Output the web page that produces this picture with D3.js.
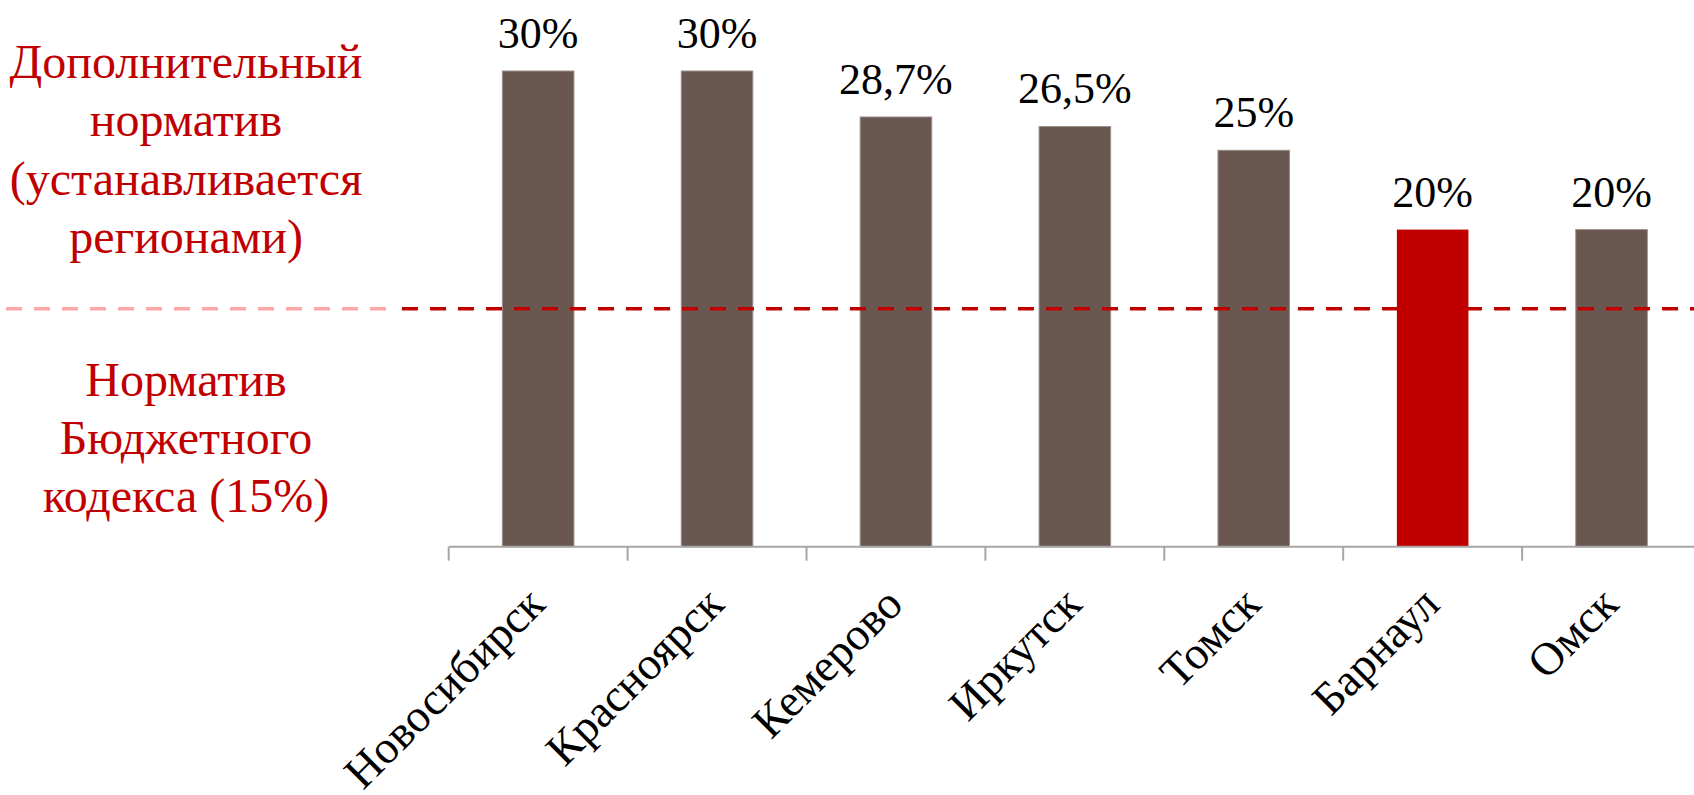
<!DOCTYPE html>
<html>
<head>
<meta charset="utf-8">
<script src="https://cdn.jsdelivr.net/npm/d3@7"></script>
<style>
  body { margin: 0; background: #fff; }
</style>
</head>
<body>
<script>
const cities = ["Новосибирск", "Красноярск", "Кемерово", "Иркутск", "Томск", "Барнаул", "Омск"];
// bar heights (Kemerovo's bar is drawn lower than its label says)
const barValues = [30, 30, 27.1, 26.5, 25, 20, 20];
const valueLabels = ["30%", "30%", "28,7%", "26,5%", "25%", "20%", "20%"];
const highlightCity = "Барнаул";
const budgetCodeNorm = 15;
const upperNote = ["Дополнительный", "норматив", "(устанавливается", "регионами)"];
const lowerNote = ["Норматив", "Бюджетного", "кодекса (15%)"];

const w = 1694;
const h = 795;
const margin = { top: 71, left: 448.7 };
const axisY = 546.7;
const step = 178.9;
const serif = "'Liberation Serif', 'Times New Roman', serif";

const svg = d3.select("body")
    .append("svg")
    .attr("width", w)
    .attr("height", h)
    .style("font-family", serif);

const data = cities.map((c, i) => ({ city: c, value: barValues[i], label: valueLabels[i] }));

const xScale = d3.scaleBand()
    .domain(cities)
    .range([margin.left, margin.left + step * cities.length])
    .paddingInner(0.6)
    .paddingOuter(0.3);

// category boundaries for the tick marks
const xEdges = d3.scaleBand()
    .domain(cities)
    .range([margin.left, margin.left + step * cities.length])
    .padding(0);

const yScale = d3.scaleLinear()
    .domain([0, 30])
    .range([axisY, margin.top]);

// bars
svg.append("g")
    .selectAll("rect")
    .data(data)
    .enter()
    .append("rect")
    .attr("x", d => xScale(d.city))
    .attr("y", d => yScale(d.value))
    .attr("width", xScale.bandwidth())
    .attr("height", d => yScale(0) - yScale(d.value))
    .attr("fill", d => d.city === highlightCity ? "#C00000" : "#695750")
    .attr("stroke", d => d.city === highlightCity ? "none" : "#9b8f8a")
    .attr("stroke-width", 1);

// x axis line + ticks
const axisG = svg.append("g").attr("class", "x-axis");
axisG.append("line")
    .attr("x1", xEdges(cities[0]))
    .attr("x2", w)
    .attr("y1", yScale(0))
    .attr("y2", yScale(0))
    .attr("stroke", "#A6A6A6")
    .attr("stroke-width", 2);

axisG.selectAll("line.tick")
    .data(cities)
    .enter()
    .append("line")
    .attr("class", "tick")
    .attr("x1", d => xEdges(d))
    .attr("x2", d => xEdges(d))
    .attr("y1", yScale(0))
    .attr("y2", yScale(0) + 14)
    .attr("stroke", "#A6A6A6")
    .attr("stroke-width", 2);

axisG.selectAll("text")
    .data(cities)
    .enter()
    .append("text")
    .attr("text-anchor", "end")
    .attr("transform", d => `translate(${xScale(d) + xScale.bandwidth() / 2 + 9}, ${yScale(0) + 60}) rotate(-45)`)
    .attr("font-family", serif)
    .attr("font-size", 46)
    .attr("fill", "#000")
    .text(d => d);

// dashed norm line (pale over the notes, dark red over the plot)
svg.append("line")
    .attr("x1", 6)
    .attr("x2", 390)
    .attr("y1", yScale(budgetCodeNorm))
    .attr("y2", yScale(budgetCodeNorm))
    .attr("stroke", "#FFA6A6")
    .attr("stroke-width", 3.5)
    .attr("stroke-dasharray", "16,12");

svg.append("line")
    .attr("x1", 402)
    .attr("x2", w)
    .attr("y1", yScale(budgetCodeNorm))
    .attr("y2", yScale(budgetCodeNorm))
    .attr("stroke", "#C00000")
    .attr("stroke-width", 3.5)
    .attr("stroke-dasharray", "16,12");

// value labels
svg.append("g")
    .selectAll("text")
    .data(data)
    .enter()
    .append("text")
    .attr("x", d => xScale(d.city) + xScale.bandwidth() / 2)
    .attr("y", d => yScale(d.value) - 23)
    .attr("text-anchor", "middle")
    .attr("font-family", serif)
    .attr("font-size", 44)
    .attr("fill", "#000")
    .text(d => d.label);

// notes on the left
svg.append("g")
    .selectAll("text")
    .data(upperNote)
    .enter()
    .append("text")
    .attr("x", 186)
    .attr("y", (d, i) => 78.3 + i * 58.1)
    .attr("text-anchor", "middle")
    .attr("font-family", serif)
    .attr("font-size", 48)
    .attr("fill", "#C00000")
    .text(d => d);

svg.append("g")
    .selectAll("text")
    .data(lowerNote)
    .enter()
    .append("text")
    .attr("x", 186)
    .attr("y", (d, i) => 395.7 + i * 58)
    .attr("text-anchor", "middle")
    .attr("font-family", serif)
    .attr("font-size", 48)
    .attr("fill", "#C00000")
    .text(d => d);
</script>
</body>
</html>
